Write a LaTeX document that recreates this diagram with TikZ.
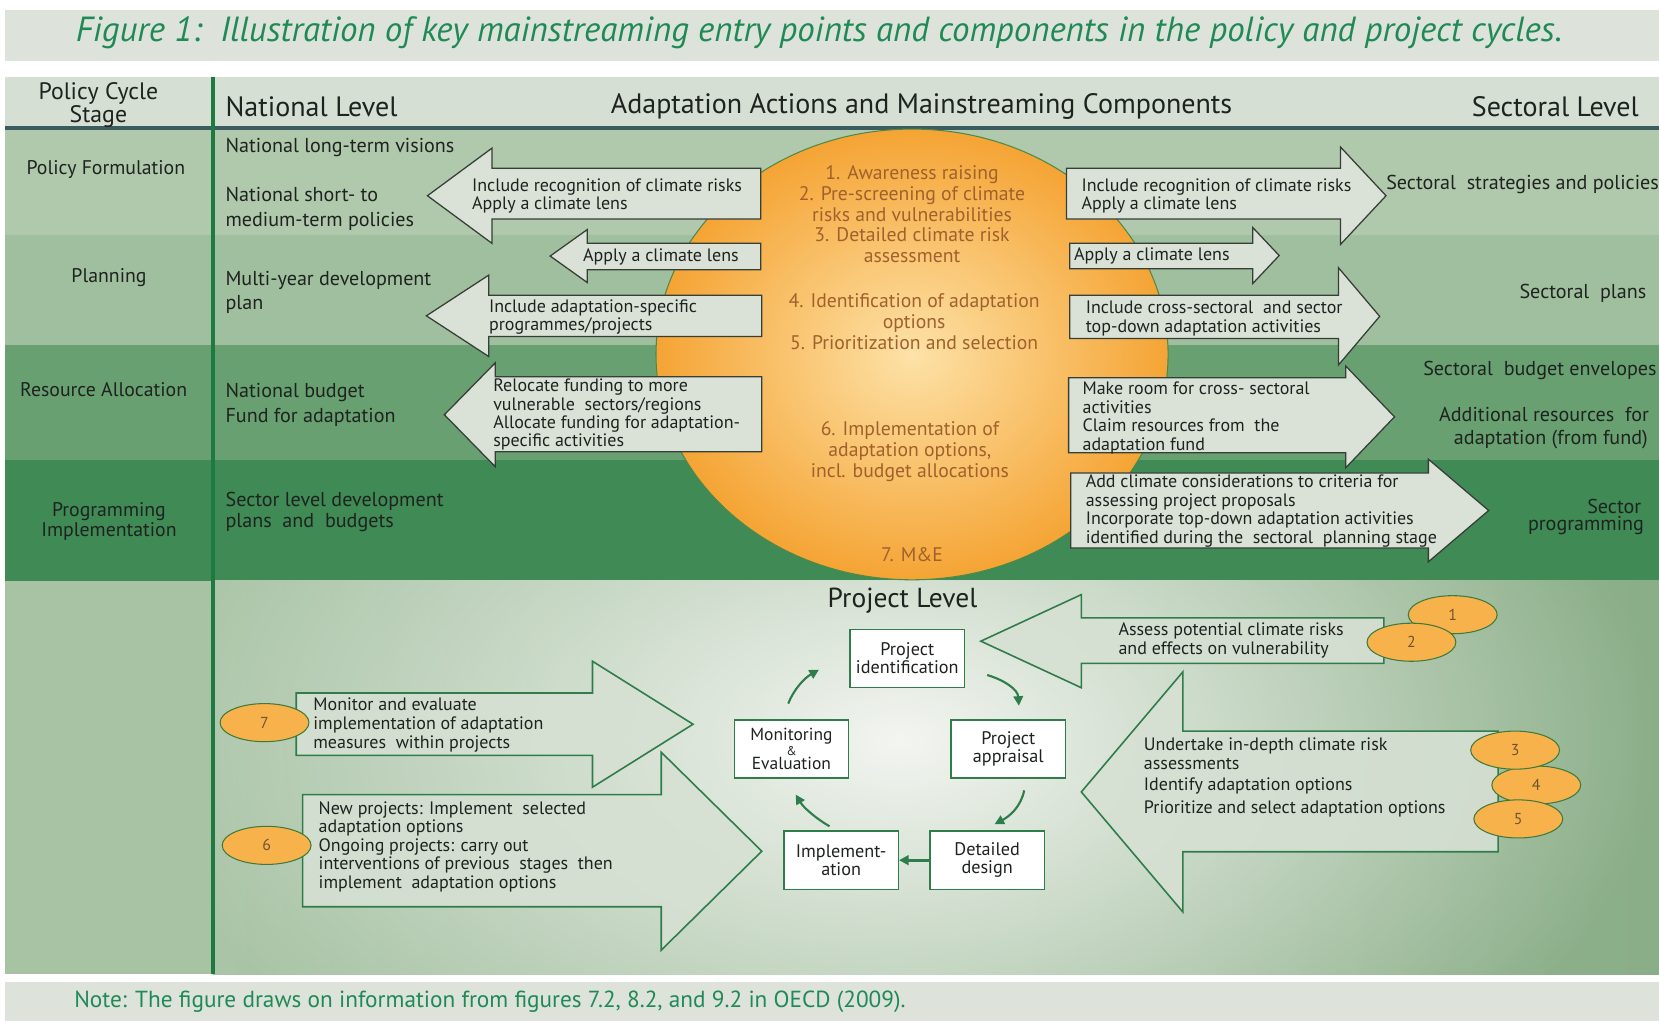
\documentclass[tikz,border=0pt]{standalone}
\usepackage{fontspec}
\setmainfont{PT Sans}
\usetikzlibrary{arrows.meta,fadings,shapes.geometric}
\definecolor{band}{HTML}{DDE3DB}
\definecolor{titlegreen}{HTML}{1F8A55}
\definecolor{hdrc}{HTML}{D6DFD4}
\definecolor{rowA}{HTML}{B0C8AC}
\definecolor{rowB}{HTML}{A0BF9E}
\definecolor{rowC}{HTML}{68A071}
\definecolor{rowD}{HTML}{3F8A55}
\definecolor{projL}{HTML}{A9C4A6}
\definecolor{projR}{HTML}{8AAE88}
\definecolor{projin}{HTML}{F3F5F1}
\definecolor{leftcol}{HTML}{A7C3A4}
\definecolor{vlinec}{HTML}{1E7A40}
\definecolor{hlinec}{HTML}{3E5B5F}
\definecolor{orgin}{HTML}{FDE2A8}
\definecolor{orgout}{HTML}{F5A434}
\definecolor{orgline}{HTML}{4D8A48}
\definecolor{orgtext}{HTML}{A0612C}
\definecolor{arrfill}{HTML}{DAE1D7}
\definecolor{parrfill}{HTML}{D6E0D3}
\definecolor{arrdraw}{HTML}{353E37}
\definecolor{pgreen}{HTML}{2E7D4A}
\definecolor{circfill}{HTML}{F8B24C}
\definecolor{circdraw}{HTML}{3E7B3A}
\definecolor{numtext}{HTML}{6E5530}
\definecolor{txt}{HTML}{1E231F}
\tikzfading[name=softglow, inner color=transparent!0, outer color=transparent!100]
\newcommand\myArrow[8]{\draw[#1] (#2,#5) -- (#3,#5) -- (#3,#7) -- (#4,{(#7+#8)/2}) -- (#3,#8) -- (#3,#6) -- (#2,#6) -- cycle;}
\begin{document}
\begin{tikzpicture}[x=1pt,y=-1pt,
  lbl/.style={inner sep=0pt,text=txt},
  hdr/.style={lbl,font=\fontsize{26.5}{28}\selectfont},
  rowlbl/.style={lbl,font=\fontsize{18.7}{19}\selectfont,align=center},
  nat/.style={lbl,font=\fontsize{19}{23}\selectfont,align=left,anchor=west},
  atext/.style={lbl,font=\fontsize{17}{17.4}\selectfont,align=left,anchor=west},
  etext/.style={inner sep=0pt,text=orgtext,font=\fontsize{18.6}{19.7}\selectfont,align=center},
  polarrow/.style={fill=arrfill,draw=arrdraw,line width=1.2pt,line join=miter},
  projarrow/.style={fill=parrfill,fill opacity=0.9,draw=pgreen,line width=1.5pt,line join=miter},
  pbox/.style={draw=pgreen,line width=1.4pt,fill=white,minimum width=108,minimum height=55,inner sep=0pt,align=center,font=\fontsize{17.2}{17}\selectfont,text=txt},
  numc/.style={ellipse,draw=circdraw,line width=1pt,fill=circfill,minimum width=84,minimum height=36,inner sep=0pt,font=\fontsize{15}{16}\selectfont,text=numtext},
  cyc/.style={draw=pgreen,line width=2pt,-{Triangle[length=9pt,width=9pt]}},
]
\useasboundingbox (0,0) rectangle (1568,965);
\begin{scope}
\clip (0,0) rectangle (1568,965);
\fill[white] (0,0) rectangle (1568,965);
% bands and rows
\fill[band] (5,9) rectangle (1568,58);
\fill[hdrc] (5,73) rectangle (1568,121);
\fill[rowA] (5,121) rectangle (1568,222);
\fill[rowB] (5,222) rectangle (1568,326);
\fill[rowC] (5,326) rectangle (1568,435);
\fill[rowD] (5,435) rectangle (1568,549);
\fill[leftcol] (5,549) rectangle (201,921);
\shade[left color=projL,right color=projR] (201,549) rectangle (1568,921);
\begin{scope}
\clip (201,549) rectangle (1568,921);
\fill[projin,path fading=softglow] (850,700) ellipse (720 and 430);
\end{scope}
\fill[band] (5,928) rectangle (1568,965);
\draw[hlinec,line width=4.5pt] (5,121) -- (1568,121);
\draw[vlinec,line width=4pt] (201,73) -- (201,921);

% title and note
\node[inner sep=0pt,text=titlegreen,font=\fontsize{33}{34}\selectfont\itshape] (title) at (774,31) {Figure 1:\ \ Illustration of key mainstreaming entry points and components in the policy and project cycles.};
\node[inner sep=0pt,anchor=west,text=titlegreen,font=\fontsize{22}{23}\selectfont] (note) at (70,947) {Note: The figure draws on information from figures 7.2, 8.2, and 9.2 in OECD (2009).};

% header
\node[lbl,font=\fontsize{22.5}{22}\selectfont,align=center] (hstage) at (93,99) {Policy Cycle\\Stage};
\node[hdr,anchor=west] (hnat) at (213,101) {National Level};
\node[hdr] (hadapt) at (871,101) {Adaptation Actions and Mainstreaming Components};
\node[hdr] (hsect) at (1470,101) {Sectoral Level};

% row labels
\node[rowlbl] (r1) at (100,160) {Policy Formulation};
\node[rowlbl] (r2) at (103,262) {Planning};
\node[rowlbl] (r3) at (98,368) {Resource Allocation};
\node[rowlbl] (r4) at (103,493) {Programming\\Implementation};

% national level
\node[nat] (nat1) at (213,139) {National long-term visions};
\node[nat] (nat2) at (213,197.5) {National short- to\\medium-term policies};
\node[nat] (nat3) at (213,276.5) {Multi-year development\\plan};
\node[nat] (nat4) at (213,382.5) {National budget\\Fund for adaptation};
\node[nat,font=\fontsize{19}{20}\selectfont] (nat5) at (213,484) {Sector level development\\plans\ \ and\ \ budgets};

% sectoral level
\node[nat] (sec1) at (1310,174) {Sectoral\ \ strategies and policies};
\node[nat] (sec2) at (1436,277) {Sectoral\ \ plans};
\node[nat] (sec3) at (1345,350) {Sectoral\ \ budget envelopes};
\node[nat] (sec4a) at (1360,392) {Additional resources\ \ for};
\node[nat] (sec4b) at (1374,415) {adaptation (from fund)};
\node[nat] (sec5a) at (1500,479) {Sector};
\node[nat] (sec5b) at (1444,497) {programming};

% orange ellipse
\shade[inner color=orgin,outer color=orgout] (862,335) ellipse (242 and 213);
\draw[orgline,line width=1pt] (862,335) ellipse (242 and 213);
\node[etext] (ea) at (862,202.5) {1. Awareness raising\\2. Pre-screening of climate\\risks and vulnerabilities\\3. Detailed climate risk\\assessment};
\node[etext] (eb) at (864,304) {4. Identification of adaptation\\options\\5. Prioritization and selection};
\node[etext] (ec) at (860,427) {6. Implementation of\\adaptation options,\\incl. budget allocations};
\node[etext] (ed) at (862,524) {7. M\&E};

% policy arrows (left)
\myArrow{polarrow}{719}{465}{404}{159}{207}{140}{230}
\myArrow{polarrow}{719}{555}{520}{230}{255}{217}{267}
\myArrow{polarrow}{720}{462}{403}{279}{318}{260}{337}
\myArrow{polarrow}{720}{468}{420}{356}{427}{343}{441}
\node[atext] (a1) at (446,185) {Include recognition of climate risks\\Apply a climate lens};
\node[atext] (a2) at (551,243) {Apply a climate lens};
\node[atext] (a3) at (462,299.5) {Include adaptation-specific\\programmes/projects};
\node[atext] (a4) at (466,392) {Relocate funding to more\\vulnerable\ \ sectors/regions\\Allocate funding for adaptation-\\specific activities};

% policy arrows (right)
\myArrow{polarrow}{1008}{1267}{1310}{159}{207}{139}{231}
\myArrow{polarrow}{1011}{1184}{1209}{230}{254}{215}{268}
\myArrow{polarrow}{1011}{1265}{1304}{279}{320}{253}{345}
\myArrow{polarrow}{1010}{1272}{1318}{357}{428}{346}{442}
\myArrow{polarrow}{1012}{1350}{1407}{447}{518}{434}{531}
\node[atext] (b1) at (1022,185) {Include recognition of climate risks\\Apply a climate lens};
\node[atext] (b2) at (1015,242) {Apply a climate lens};
\node[atext] (b3) at (1026,301) {Include cross-sectoral\ \ and sector\\top-down adaptation activities};
\node[atext] (b4) at (1023,395) {Make room for cross- sectoral\\activities\\Claim resources from\ \ the\\adaptation fund};
\node[atext] (b5) at (1026,483) {Add climate considerations to criteria for\\assessing project proposals\\Incorporate top-down adaptation activities\\identified during the\ \ sectoral\ \ planning stage};

% project level
\node[lbl,font=\fontsize{26}{27}\selectfont] (plevel) at (853,568) {Project Level};

\myArrow{projarrow}{1308}{1022}{927}{584}{627}{562}{650}
\myArrow{projarrow}{1416}{1118}{1022}{691}{805}{635}{862}
\myArrow{projarrow}{280}{560}{655}{655}{714}{625}{744}
\myArrow{projarrow}{286}{625}{720}{751}{857}{711}{898}
\node[atext] (c1) at (1057,605.5) {Assess potential climate risks\\and effects on vulnerability};
\node[atext,font=\fontsize{17}{18}\selectfont] (c2a) at (1081,712) {Undertake in-depth climate risk\\assessments};
\node[atext] (c2b) at (1081,743) {Identify adaptation options};
\node[atext] (c2c) at (1081,765) {Prioritize and select adaptation options};
\node[atext,font=\fontsize{17}{18}\selectfont] (c3) at (296,685) {Monitor and evaluate\\implementation of adaptation\\measures\ \ within projects};
\node[atext,font=\fontsize{17}{17.5}\selectfont] (c4) at (301,800) {New projects: Implement\ \ selected\\adaptation options\\Ongoing projects: carry out\\interventions of previous\ \ stages\ \ then\\implement\ \ adaptation options};

\node[numc] (n1) at (1373,581) {1};
\node[numc] (n2) at (1334,607) {2};
\node[numc] (n4) at (1452,742) {4};
\node[numc] (n3) at (1432,709) {3};
\node[numc] (n5) at (1435,774) {5};
\node[numc] (n7) at (250,683) {7};
\node[numc] (n6) at (252,799) {6};

% project cycle boxes
\node[pbox] (pid) at (857.5,622.5) {Project\\identification};
\node[pbox] (pap) at (953,708) {Project\\appraisal};
\node[pbox] (dd) at (933,813) {Detailed\\design};
\node[pbox] (impl) at (795,813) {Implement-\\ation};
\node[pbox,font=\fontsize{16.5}{13.5}\selectfont] (me) at (748,708) {Monitoring\\{\fontsize{12}{13.5}\selectfont\&}\\Evaluation};

\coordinate (k1s) at (933,638); \coordinate (k1e) at (963,667);
\coordinate (k2s) at (968,747); \coordinate (k2e) at (940,779);
\coordinate (k4s) at (784,781); \coordinate (k4e) at (752,751);
\coordinate (k5s) at (745,665); \coordinate (k5e) at (774,633);
\draw[cyc] (k1s) .. controls (950,643) and (962,652) .. (k1e);
\draw[cyc] (k2s) .. controls (965,762) and (955,771) .. (k2e);
\draw[cyc,line width=2.6pt] (dd.west) -- (impl.east);
\draw[cyc] (k4s) .. controls (772,774) and (760,764) .. (k4e);
\draw[cyc] (k5s) .. controls (750,652) and (760,641) .. (k5e);
\end{scope}
\end{tikzpicture}
\end{document}
